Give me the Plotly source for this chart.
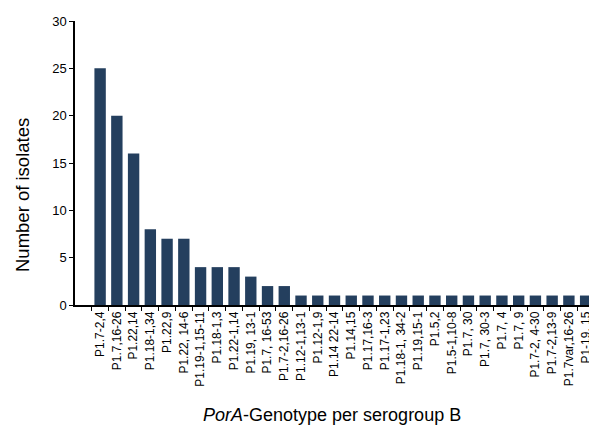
import plotly.graph_objects as go

genotypes = ["P1.7-2,4", "P1.7,16-26", "P1.22,14", "P1.18-1,34", "P1.22,9", "P1.22, 14-6",
             "P1.19-1,15-11", "P1.18-1,3", "P1.22-1,14", "P1.19, 13-1", "P1.7, 16-53",
             "P1.7-2,16-26", "P1.12-1,13-1", "P1.12-1,9", "P1.14 22-14", "P1.14,15",
             "P1.17,16-3", "P1.17-1,23", "P1.18-1, 34-2", "P1.19,15-1", "P1.5,2",
             "P1.5-1,10-8", "P1.7, 30", "P1.7, 30-3", "P1.7, 4", "P1.7, 9", "P1.7-2, 4-30",
             "P1.7-2,13-9", "P1.7var,16-26", "P1-19, 15"]
isolates = [25, 20, 16, 8, 7, 7, 4, 4, 4, 3, 2, 2,
            1, 1, 1, 1, 1, 1, 1, 1, 1, 1, 1, 1, 1, 1, 1, 1, 1, 1]
y_ticks = [0, 5, 10, 15, 20, 25, 30]

font = "Liberation Sans, Arial, sans-serif"

fig = go.Figure(go.Bar(x=genotypes, y=isolates, marker_color="#243F5E",
                       marker_line_width=0, width=0.68))

fig.update_layout(
    width=589, height=419,
    margin=dict(l=67, r=3, t=13, b=122),
    paper_bgcolor="white", plot_bgcolor="white",
    font=dict(family=font, size=12, color="black"),
    showlegend=False,
)
fig.update_xaxes(
    type="category", range=[-1.5, 29.5],
    tickangle=-90, tickson="boundaries", ticks="outside", ticklen=4,
    tickcolor="black", showline=True, linecolor="black", linewidth=1.5,
    showgrid=False, tickfont=dict(size=12, family=font, color="black"),
)
fig.update_yaxes(
    range=[0, 30], tickvals=y_ticks, ticks="outside", ticklen=4,
    tickcolor="black", showline=True, linecolor="black", linewidth=1.5,
    showgrid=False, zeroline=False, tickfont=dict(size=13, family=font, color="black"),
)
fig.add_annotation(text="<i>PorA</i>-Genotype per serogroup B", xref="paper", yref="paper",
                   x=0.496, y=0, yshift=-110, showarrow=False, xanchor="center", yanchor="middle",
                   font=dict(size=18, family=font, color="black"))
fig.add_annotation(text="Number of isolates", xref="paper", yref="paper",
                   x=0, xshift=-53, y=0.5, yshift=-32, textangle=-90, showarrow=False,
                   xanchor="center", yanchor="middle",
                   font=dict(size=18.5, family=font, color="black"))

fig.write_html("out.html")
